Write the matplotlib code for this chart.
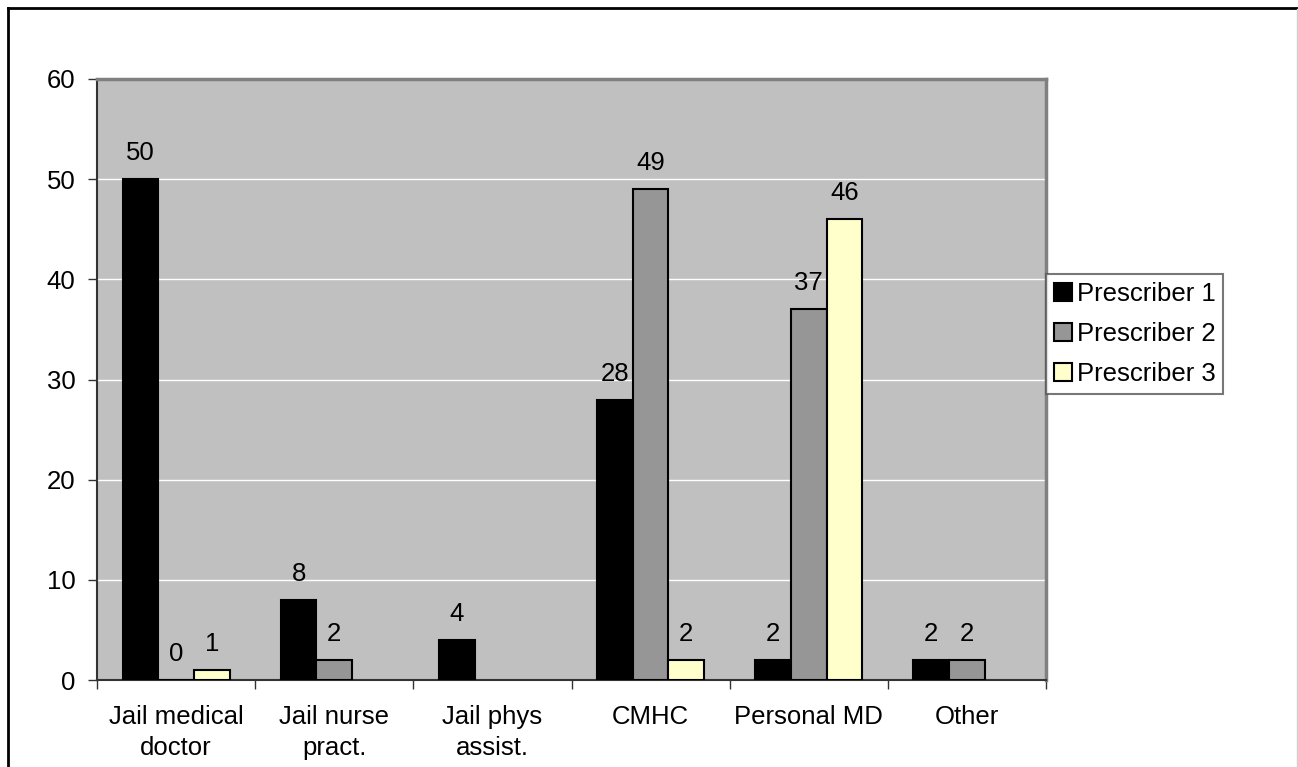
import numpy as np
import matplotlib.pyplot as plt

categories = ['Jail medical\ndoctor', 'Jail nurse\npract.', 'Jail phys\nassist.',
              'CMHC', 'Personal MD', 'Other']
series_names = ['Prescriber 1', 'Prescriber 2', 'Prescriber 3']
prescriber1 = [50, 8, 4, 28, 2, 2]
prescriber2 = [0, 2, None, 49, 37, 2]
prescriber3 = [1, None, None, 2, 46, None]
colors = ['#000000', '#969696', '#FFFFCC']

plt.rcParams['font.family'] = ['Liberation Sans', 'DejaVu Sans']
FS = 18.5

fig = plt.figure(figsize=(12.98, 7.67), dpi=100)
fig.set_facecolor('white')
ax = fig.add_axes([97 / 1298, 1 - 680 / 767, (1046 - 97) / 1298, (680 - 79) / 767])
ax.set_facecolor('#C0C0C0')

x = np.arange(len(categories))
w = 0.2255
for i, (vals, col, name) in enumerate(zip([prescriber1, prescriber2, prescriber3], colors, series_names)):
    pos = x + (i - 1) * w
    for p, v in zip(pos, vals):
        if v is None:
            continue
        ax.bar(p, v, width=w, color=col, edgecolor='black', linewidth=1.5, zorder=3)
        ax.text(p, v + 1.9, str(v), ha='center', va='baseline', fontsize=FS, zorder=4)
    # empty bar just for the legend entry
    ax.bar([0], [0], width=0, color=col, edgecolor='black', linewidth=1.5, label=name)

ax.set_xlim(-0.5, len(categories) - 0.5)
ax.set_ylim(0, 60)
ax.set_yticks(range(0, 61, 10))
ax.yaxis.grid(True, color='white', linewidth=1)
ax.set_axisbelow(True)

ax.set_xticks(x)
ax.set_xticklabels(categories, fontsize=FS, linespacing=1.38)
ax.tick_params(axis='x', length=0, pad=18)
ax.set_xticks(np.arange(len(categories) + 1) - 0.5, minor=True)
ax.tick_params(axis='x', which='minor', length=6.5, width=1, color='#333333')
ax.tick_params(axis='y', labelsize=FS, length=6.5, width=1, color='#333333', pad=9)

for s in ['top', 'right']:
    ax.spines[s].set_color('#808080')
    ax.spines[s].set_linewidth(2.5)
for s in ['left', 'bottom']:
    ax.spines[s].set_color('#333333')
    ax.spines[s].set_linewidth(1.5)

leg = ax.legend(loc='upper left', bbox_to_anchor=(1046 / 1298, 1 - 274 / 767),
                bbox_transform=fig.transFigure, fontsize=FS, frameon=True,
                fancybox=False, borderpad=0.3, handlelength=0.7, handleheight=0.7,
                handletextpad=0.2, labelspacing=0.63, borderaxespad=0)
leg.get_frame().set_edgecolor('#555555')
leg.get_frame().set_linewidth(1.5)

# outer frame of the chart area
fig.add_artist(plt.Line2D([8 / 1298, 1], [1 - 8 / 767, 1 - 8 / 767], color='black', lw=2,
                          transform=fig.transFigure))
fig.add_artist(plt.Line2D([8 / 1298, 8 / 1298], [0, 1 - 8 / 767], color='black', lw=2,
                          transform=fig.transFigure))
fig.add_artist(plt.Line2D([1297 / 1298, 1297 / 1298], [0, 1 - 9 / 767], color='#D0D0D0', lw=1,
                          transform=fig.transFigure))

fig.savefig('out.png', dpi=100)
